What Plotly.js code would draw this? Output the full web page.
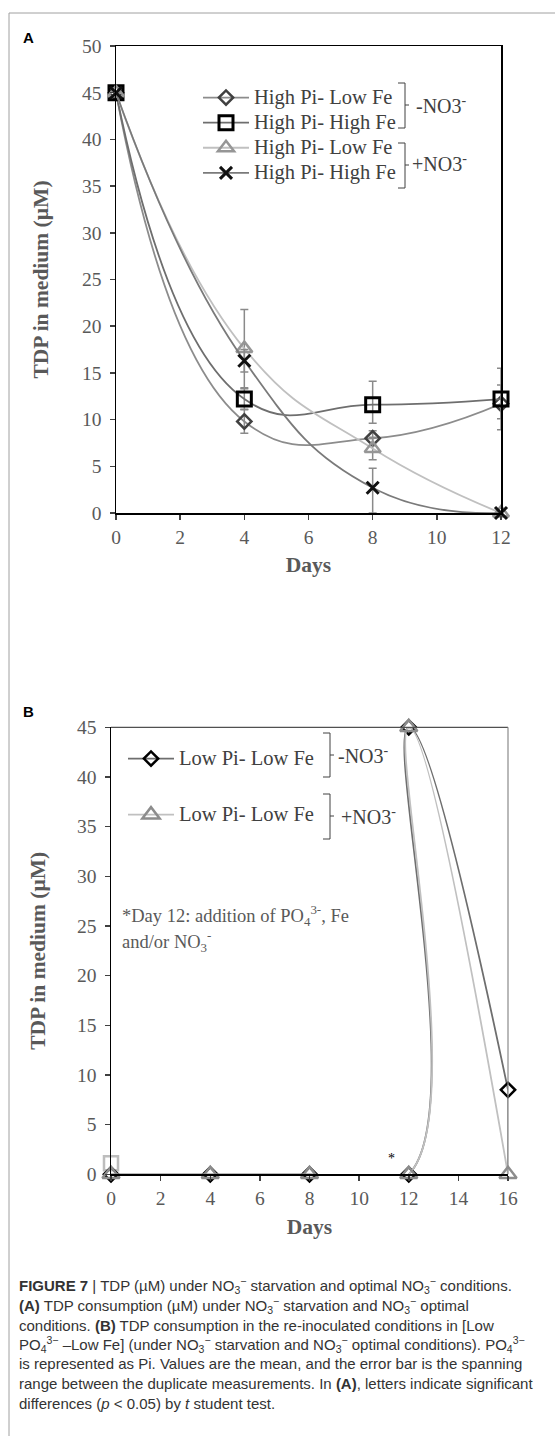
<!DOCTYPE html>
<html>
<head>
<meta charset="utf-8">
<script src="https://cdn.plot.ly/plotly-3.0.1.min.js"></script>
<style>
html,body{margin:0;padding:0;background:#fff;}
#chart{width:555px;height:1436px;}
</style>
</head>
<body>
<div id="chart"></div>
<script>
// ---------- DATA ----------
const daysA = [0, 4, 8, 12];
const aMinusLowFe  = [45, 9.8, 8.0, 11.7];
const aMinusLowFeErrUp = [0, 1.25, 0.8, 3.8];
const aMinusLowFeErrDn = [0, 1.25, 0.8, 2.8];
const aMinusHighFe = [45, 12.2, 11.6, 12.2];
const aMinusHighFeErrUp = [0, 1.1, 2.5, 1.5];
const aMinusHighFeErrDn = [0, 1.1, 2.0, 2.1];
const aPlusLowFe   = [45, 17.6, 6.9, 0];
const aPlusLowFeErr = [0, 4.2, 1.2, 0];
const aPlusHighFe  = [45, 16.3, 2.7, 0];
const aPlusHighFeErrUp = [0, 1.2, 2.1, 0];
const aPlusHighFeErrDn = [0, 1.2, 2.7, 0];

const daysB = [0, 4, 8, 12, 12, 16];
const bMinus = [0, 0, 0, 0, 45, 8.5];
const bMinusErrUp = [0, 0, 0, 0, 0, 0];
const bMinusErrDn = [0, 0, 0, 0, 0, 8.5];
const bPlus  = [0, 0, 0, 0, 45, 0];
const bExtraDays = [0];
const bExtra = [1.1];

const namesA = ["High Pi- Low Fe", "High Pi- High Fe", "High Pi- Low Fe", "High Pi- High Fe"];
const namesB = ["Low Pi- Low Fe", "Low Pi- Low Fe"];
const ticksA_x = [0, 2, 4, 6, 8, 10, 12];
const ticksB_x = [0, 2, 4, 6, 8, 10, 12, 14, 16];

// ---------- helpers ----------
const W = 555, H = 1436;
const px = x => x / W;
const py = y => 1 - y / H;
const SERIF = "Liberation Serif, Times New Roman, serif";
const SANS = "Liberation Sans, Arial, sans-serif";
const errStyle = {color: "#8a8a8a", thickness: 1.5, width: 4};
const SM = 1.3;
const big = t => "<span style='font-size:20.5px'>" + t + "</span>";

function errAsym(up, dn){ return Object.assign({type: "data", symmetric: false, array: up, arrayminus: dn, visible: true}, errStyle); }

const common = {mode: "lines+markers", cliponaxis: false};

const traces = [
  Object.assign({}, common, {x: daysA, y: aMinusLowFe, name: big(namesA[0]), xaxis: "x", yaxis: "y", legend: "legend",
    line: {shape: "spline", smoothing: SM, width: 1.8, color: "#8c8c8c"},
    marker: {symbol: "diamond-open", size: 11, color: "#404040", line: {width: 2.5, color: "#404040"}},
    error_y: errAsym(aMinusLowFeErrUp, aMinusLowFeErrDn)}),
  Object.assign({}, common, {x: daysA, y: aMinusHighFe, name: big(namesA[1]), xaxis: "x", yaxis: "y", legend: "legend",
    line: {shape: "spline", smoothing: SM, width: 1.8, color: "#6e6e6e"},
    marker: {symbol: "square-open", size: 14, color: "#000", line: {width: 3, color: "#000"}},
    error_y: errAsym(aMinusHighFeErrUp, aMinusHighFeErrDn)}),
  Object.assign({}, common, {x: daysA, y: aPlusLowFe, name: big(namesA[2]), xaxis: "x", yaxis: "y", legend: "legend",
    line: {shape: "spline", smoothing: SM, width: 1.8, color: "#c0c0c0"},
    marker: {symbol: "triangle-up-open", size: 14, color: "#969696", line: {width: 2.5, color: "#969696"}},
    error_y: errAsym(aPlusLowFeErr, aPlusLowFeErr)}),
  Object.assign({}, common, {x: daysA, y: aPlusHighFe, name: big(namesA[3]), xaxis: "x", yaxis: "y", legend: "legend",
    line: {shape: "spline", smoothing: SM, width: 1.8, color: "#7a7a7a"},
    marker: {symbol: "x-thin-open", size: 12, color: "#111", line: {width: 3, color: "#111"}},
    error_y: errAsym(aPlusHighFeErrUp, aPlusHighFeErrDn)}),

  Object.assign({}, common, {x: bExtraDays, y: bExtra, name: "", xaxis: "x2", yaxis: "y2", showlegend: false, mode: "markers",
    marker: {symbol: "square-open", size: 14, color: "#bdbdbd", line: {width: 2.5, color: "#bdbdbd"}}}),
  Object.assign({}, common, {x: daysB, y: bMinus, name: big(namesB[0]), xaxis: "x2", yaxis: "y2", legend: "legend2", legendgroup: "g1",
    line: {shape: "spline", smoothing: SM, width: 1.8, color: "#6e6e6e"},
    marker: {symbol: "diamond-open", size: 11, color: "#000", line: {width: 2.5, color: "#000"}},
    error_y: Object.assign(errAsym(bMinusErrUp, bMinusErrDn), {width: 0})}),
  Object.assign({}, common, {x: daysB, y: bPlus, name: big(namesB[1]), xaxis: "x2", yaxis: "y2", legend: "legend2", legendgroup: "g2",
    line: {shape: "spline", smoothing: SM, width: 1.8, color: "#c0c0c0"},
    marker: {symbol: "triangle-up-open", size: 15, color: "#8c8c8c", line: {width: 2.5, color: "#8c8c8c"}}})
];

const tickFont = {family: SERIF, size: 19.5, color: "#595959"};
const titleFont = {family: SERIF, size: 21.5, color: "#595959", weight: "bold"};

function axisBase(){
  return {showgrid: false, zeroline: false, showline: true, linecolor: "#000", linewidth: 1.5,
    ticks: "outside", ticklen: 5, tickcolor: "#404040", tickwidth: 1.5, tickfont: tickFont, fixedrange: true,
    ticklabelstandoff: 4};
}

const xaxis = Object.assign(axisBase(), {domain: [px(116), px(501)], range: [0, 12], tickvals: ticksA_x, anchor: "y", mirror: true,
  ticklabelstandoff: 1, title: {text: "Days", font: titleFont, standoff: 10}});
const yaxis = Object.assign(axisBase(), {domain: [py(513), py(46)], range: [0, 50], dtick: 5, anchor: "x", mirror: true,
  title: {text: "TDP in medium (µM)", font: titleFont, standoff: 27}});
const xaxis2 = Object.assign(axisBase(), {domain: [px(111), px(508)], range: [0, 16], tickvals: ticksB_x, anchor: "y2",
  ticklabelstandoff: 1, title: {text: "Days", font: titleFont, standoff: 10}});
const yaxis2 = Object.assign(axisBase(), {domain: [py(1174.3), py(727.3)], range: [0, 45], dtick: 5, anchor: "x2",
  title: {text: "TDP in medium (µM)", font: titleFont, standoff: 25}});

// shapes: figure frame, B panel top/right borders, legend brackets
const shapes = [];
function pline(x0, y0, x1, y1, color, width){
  shapes.push({type: "line", xref: "paper", yref: "paper", x0: px(x0), y0: py(y0), x1: px(x1), y1: py(y1),
    line: {color: color, width: width}});
}
pline(9, 13, 555, 13, "#a0a0a0", 1);
pline(9, 13, 9, 1436, "#a0a0a0", 1);
shapes.push({type: "line", xref: "x2 domain", yref: "y2 domain", x0: 0, y0: 1, x1: 1, y1: 1, line: {color: "#505050", width: 1.2}});
shapes.push({type: "line", xref: "x2 domain", yref: "y2 domain", x0: 1, y0: 0, x1: 1, y1: 1, line: {color: "#8a8a8a", width: 1.2}});
function bracket(x, yTop, yBot, yMid){
  const c = "#404040";
  pline(x - 7, yTop, x, yTop, c, 1);
  pline(x, yTop, x, yBot, c, 1);
  pline(x - 7, yBot, x, yBot, c, 1);
  pline(x, yMid, x + 4, yMid, c, 1);
}
bracket(405, 83, 128, 105);
bracket(405, 143, 188, 165);
bracket(330, 733, 777, 755);
bracket(330, 794, 839, 816);

const annotations = [];
function ann(text, x, y, font, extra){
  annotations.push(Object.assign({text: text, xref: "paper", yref: "paper", x: px(x), y: py(y), xanchor: "left", yanchor: "middle",
    showarrow: false, font: font, align: "left"}, extra || {}));
}
const legFont = {family: SERIF, size: 20, color: "#404040"};
ann("<b>A</b>", 21, 37, {family: SANS, size: 15, color: "#000"});
ann("<b>B</b>", 21, 711, {family: SANS, size: 15, color: "#000"});
ann("-NO3<sup>-</sup>", 414, 105, legFont);
ann("+NO3<sup>-</sup>", 410, 163, legFont);
ann("-NO3<sup>-</sup>", 336, 755, legFont);
ann("+NO3<sup>-</sup>", 339, 816, legFont);
const noteFont = {family: SERIF, size: 18.5, color: "#595959"};
ann("*Day 12: addition of PO<sub>4</sub><sup>3-</sup>, Fe", 120, 915, noteFont);
ann("and/or NO<sub>3</sub><sup>-</sup>", 120, 941, noteFont);
annotations.push({text: "*", xref: "x2", yref: "y2", x: 11.3, y: 1.6, showarrow: false, font: {family: SERIF, size: 14, color: "#000"}});

const capFont = {family: SANS, size: 15, color: "#333"};
const NO3 = "NO<sub>3</sub><sup>−</sup>";
const PO4 = "PO<sub>4</sub><sup>3−</sup>";
const captionLines = [
  "<b>FIGURE 7</b> | TDP (µM) under " + NO3 + " starvation and optimal " + NO3 + " conditions.",
  "<b>(A)</b> TDP consumption (µM) under " + NO3 + " starvation and " + NO3 + " optimal",
  "conditions. <b>(B)</b> TDP consumption in the re-inoculated conditions in [Low",
  PO4 + " –Low Fe] (under " + NO3 + " starvation and " + NO3 + " optimal conditions). " + PO4,
  "is represented as Pi. Values are the mean, and the error bar is the spanning",
  "range between the duplicate measurements. In <b>(A)</b>, letters indicate significant",
  "differences (<i>p</i> &lt; 0.05) by <i>t</i> student test."
];
const capY = [1285.5, 1305.3, 1325, 1344.5, 1363.5, 1383, 1403];
captionLines.forEach((t, i) => ann(t, 17, capY[i], capFont));

const layout = {
  width: W, height: H, margin: {l: 0, r: 0, t: 0, b: 0, pad: 0},
  paper_bgcolor: "#fff", plot_bgcolor: "rgba(0,0,0,0)",
  showlegend: true,
  xaxis: xaxis, yaxis: yaxis, xaxis2: xaxis2, yaxis2: yaxis2,
  legend: {x: px(198), y: py(80), xanchor: "left", yanchor: "top", bgcolor: "rgba(0,0,0,0)",
    font: {family: SERIF, size: 17, color: "#404040"}, itemwidth: 46, tracegroupgap: 0, traceorder: "normal"},
  legend2: {x: px(123), y: py(741), xanchor: "left", yanchor: "top", bgcolor: "rgba(0,0,0,0)",
    font: {family: SERIF, size: 17, color: "#404040"}, itemwidth: 46, tracegroupgap: 31, traceorder: "grouped"},
  shapes: shapes, annotations: annotations
};

Plotly.newPlot("chart", traces, layout, {displayModeBar: false, staticPlot: true});
</script>
</body>
</html>
